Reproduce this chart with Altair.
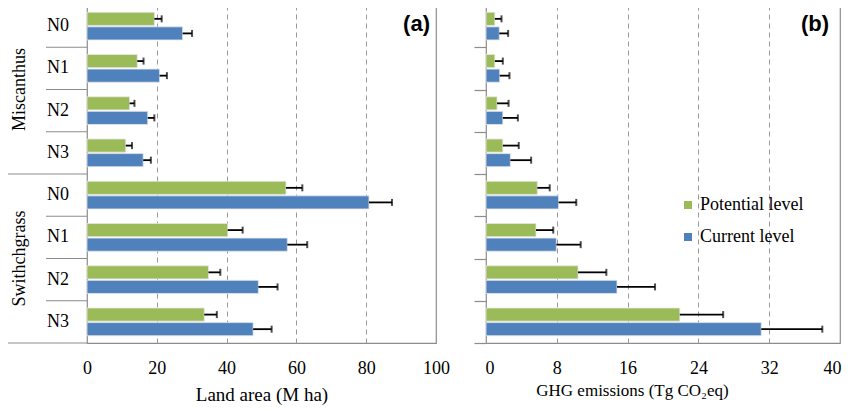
import altair as alt
import pandas as pd

groups = ["Miscanthus"] * 4 + ["Swithchgrass"] * 4
levels = ["N0", "N1", "N2", "N3"] * 2
series = ["Potential level", "Current level"]
colors = ["#9BBB59", "#4F81BD"]

land_potential = [19.3, 14.4, 12.2, 11.1, 57.0, 40.3, 34.8, 33.6]
land_potential_hi = [21.4, 16.2, 13.6, 12.9, 61.7, 44.6, 38.2, 37.2]
land_current = [27.4, 20.8, 17.4, 16.1, 80.8, 57.4, 49.1, 47.6]
land_current_hi = [30.1, 22.9, 19.3, 18.3, 87.4, 63.1, 54.6, 52.9]

ghg_potential = [1.0, 1.0, 1.25, 1.9, 5.8, 5.65, 10.4, 21.9]
ghg_potential_hi = [1.75, 1.9, 2.55, 3.7, 7.2, 7.6, 13.6, 26.8]
ghg_current = [1.5, 1.55, 1.9, 2.75, 8.2, 7.95, 14.8, 31.1]
ghg_current_hi = [2.5, 2.65, 3.6, 5.1, 10.2, 10.7, 19.1, 38.0]

land_ticks = [0, 20, 40, 60, 80, 100]
ghg_ticks = [0, 8, 16, 24, 32, 40]

cats = [g + " " + l for g, l in zip(groups, levels)]
SERIF = "Liberation Serif"
GRAY = "#8c8c8c"


def make_df(pot, pot_hi, cur, cur_hi):
    rows = []
    for i, c in enumerate(cats):
        rows.append({"cat": c, "series": series[0], "value": pot[i], "hi": pot_hi[i]})
        rows.append({"cat": c, "series": series[1], "value": cur[i], "hi": cur_hi[i]})
    return pd.DataFrame(rows)


yscale = alt.Scale(domain=cats, paddingInner=0, paddingOuter=0)
yoff = alt.YOffset("series:N", sort=series,
                   scale=alt.Scale(domain=series, paddingInner=0.1, paddingOuter=0.5))


def panel(df, xmax, ticks, xaxis, tag, yaxis, legend):
    xsc = alt.Scale(domain=[0, xmax], nice=False)
    base = alt.Chart(df)
    bars = base.mark_bar(stroke="#e6e6e6", strokeWidth=0.8).encode(
        x=alt.X("value:Q", scale=xsc, axis=xaxis),
        y=alt.Y("cat:N", scale=yscale, axis=yaxis, sort=cats),
        yOffset=yoff,
        color=alt.Color("series:N", scale=alt.Scale(domain=series, range=colors),
                        legend=legend),
    )
    err = base.mark_rule(color="black", strokeWidth=1.8).encode(
        x="value:Q", x2="hi:Q", y=alt.Y("cat:N", sort=cats), yOffset=yoff)
    cap = base.mark_tick(color="black", thickness=2, size=7).encode(
        x="hi:Q", y=alt.Y("cat:N", sort=cats), yOffset=yoff)
    tagtxt = alt.Chart(pd.DataFrame({"t": [tag]})).mark_text(
        font="Liberation Sans", fontWeight="bold", fontSize=22, align="right",
        baseline="middle", color="black").encode(
        x=alt.value(343), y=alt.value(19), text="t:N")
    return bars + err + cap + tagtxt


def xaxis_def(ticks, title, tsize, tpad, **kw):
    return alt.Axis(values=ticks, grid=True, gridDash=[5, 4], gridColor="#999999",
                    ticks=False, domain=False, labelPadding=16,
                    title=title, titlePadding=tpad, labelFont=SERIF,
                    labelFontSize=18, labelColor="black", titleFont=SERIF,
                    titleFontSize=tsize, titleFontWeight="normal",
                    titleColor="black", **kw)


land_df = make_df(land_potential, land_potential_hi, land_current, land_current_hi)
ghg_df = make_df(ghg_potential, ghg_potential_hi, ghg_current, ghg_current_hi)

left = panel(land_df, 100, land_ticks,
             xaxis_def(land_ticks, "Land area (M ha)", 19, 8, labelFlush=False),
             "(a)", None, None)

# left category table
lab_df = pd.DataFrame({"cat": cats, "level": levels, "group": groups})
nlabels = alt.Chart(lab_df).mark_text(font=SERIF, fontSize=18, color="black",
                                      align="center", baseline="middle").encode(
    x=alt.value(-29), y=alt.Y("cat:N", sort=cats), text="level:N")
glab_df = lab_df[lab_df["level"] == "N1"]
glabels = alt.Chart(glab_df).mark_text(font=SERIF, fontSize=18, color="black",
                                       angle=270, align="center",
                                       baseline="middle").encode(
    x=alt.value(-67), y=alt.Y("cat:N", sort=cats, bandPosition=1), text="group:N")
outer_df = lab_df[lab_df["level"] == "N0"]
inner_df = lab_df[lab_df["level"] != "N0"]
bottom_df = lab_df.iloc[[-1]]
rule_outer = alt.Chart(outer_df).mark_rule(color=GRAY, strokeWidth=1.2).encode(
    x=alt.value(-79), x2=alt.value(0), y=alt.Y("cat:N", sort=cats, bandPosition=0))
rule_inner = alt.Chart(inner_df).mark_rule(color=GRAY, strokeWidth=1.2).encode(
    x=alt.value(-41), x2=alt.value(0), y=alt.Y("cat:N", sort=cats, bandPosition=0))
rule_bottom = alt.Chart(bottom_df).mark_rule(color=GRAY, strokeWidth=1.2).encode(
    x=alt.value(-79), x2=alt.value(0), y=alt.Y("cat:N", sort=cats, bandPosition=1))

left = (left + rule_outer + rule_inner + rule_bottom + nlabels + glabels).properties(
    width=349, height=338)

right_yaxis = alt.Axis(title=None, labels=False, ticks=True, tickBand="extent",
                       tickSize=12, tickColor=GRAY, tickWidth=1.2, domain=False,
                       grid=False)
legend = alt.Legend(title=None, orient="none", legendX=193, legendY=191,
                    symbolType="square", symbolSize=64, symbolStrokeWidth=0,
                    labelFont=SERIF, labelFontSize=18, labelColor="black",
                    rowPadding=14, labelOffset=3)
right = panel(ghg_df, 40, ghg_ticks,
              xaxis_def(ghg_ticks, "GHG emissions (Tg CO\u2082eq)", 17, 5,
                        titleX=146, labelFlush=True, labelFlushOffset=1),
              "(b)", right_yaxis, legend).properties(width=354, height=338)

chart = alt.hconcat(left, right, spacing=21).resolve_scale(
    color="independent", x="independent"
).properties(
    padding={"left": -2, "top": -5, "right": 0, "bottom": 1}
).configure_view(stroke=GRAY, strokeWidth=1.2)

chart.save("out.html", embed_options={"renderer": "svg", "actions": False})
